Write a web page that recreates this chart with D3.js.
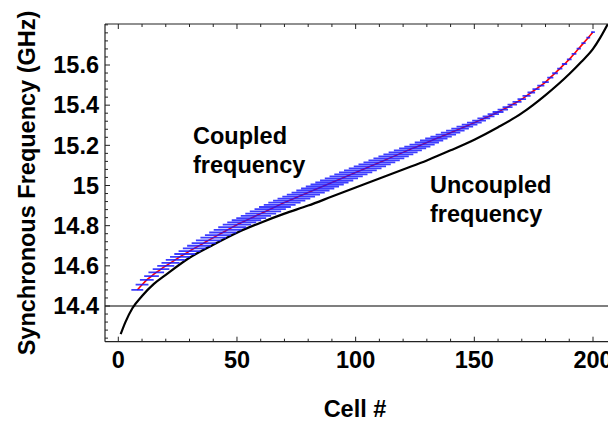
<!DOCTYPE html>
<html><head><meta charset="utf-8">
<script src="https://cdn.jsdelivr.net/npm/d3@7"></script>
<style>body{margin:0;background:#fff}svg{display:block}text{font-family:"Liberation Sans",Arial,sans-serif;font-weight:bold;fill:#000}</style>
</head><body><svg id="c" width="608" height="425"></svg>
<script>
// Coupled (measured) frequency, every 2 cells from 8 to 200
const coupledCells = d3.range(8, 201, 2);
const coupledFreq = [
14.480,14.506,14.530,14.549,14.567,14.584,14.600,14.615,14.630,14.645,
14.659,14.673,14.687,14.700,14.713,14.727,14.740,14.753,14.766,14.779,
14.792,14.805,14.816,14.827,14.838,14.849,14.860,14.871,14.882,14.893,
14.904,14.915,14.925,14.935,14.945,14.955,14.965,14.975,14.985,14.995,
15.005,15.015,15.025,15.035,15.045,15.055,15.065,15.075,15.085,15.095,
15.105,15.115,15.125,15.135,15.145,15.155,15.165,15.175,15.185,15.194,
15.204,15.214,15.224,15.234,15.243,15.253,15.263,15.273,15.283,15.293,
15.303,15.313,15.323,15.334,15.344,15.355,15.366,15.378,15.390,15.403,
15.416,15.430,15.446,15.463,15.480,15.497,15.515,15.537,15.559,15.582,
15.605,15.628,15.655,15.682,15.709,15.736,15.764];
// Horizontal error (half-width, in cells)
const coupledErr = [
2.5,2.7,2.9,3.1,3.3,3.5,3.6,3.8,4.0,4.2,
4.4,4.6,4.8,5.0,5.1,5.3,5.4,5.5,5.7,5.8,
5.9,6.0,6.1,6.2,6.3,6.4,6.5,6.6,6.6,6.7,
6.7,6.8,6.8,6.9,6.9,7.0,7.0,7.0,7.0,7.0,
7.0,7.0,7.0,7.0,7.0,7.0,7.0,6.9,6.9,6.8,
6.8,6.7,6.6,6.5,6.4,6.3,6.1,5.9,5.7,5.5,
5.3,5.1,4.9,4.7,4.5,4.3,4.1,3.9,3.7,3.5,
3.3,3.1,2.9,2.7,2.5,2.4,2.3,2.2,2.1,2.0,
1.9,1.8,1.7,1.6,1.5,1.5,1.4,1.3,1.2,1.1,
1.1,1.0,1.0,0.9,0.9,0.8,0.8];
// Uncoupled (design) frequency
const uncoupledCells = [1,3,6,10,15,20,30,40,50,60,70,80,90,100,110,120,130,140,150,160,170,180,190,195,200,203,206.5];
const uncoupledFreq  = [14.26,14.32,14.39,14.45,14.51,14.555,14.64,14.705,14.765,14.815,14.86,14.90,14.945,14.99,15.035,15.08,15.125,15.175,15.228,15.29,15.36,15.45,15.555,15.615,15.68,15.735,15.81];
const refFreq = 14.4;
const xTicks = [0,50,100,150,200];
const yTicks = [14.4,14.6,14.8,15,15.2,15.4,15.6];
const labels = {x:"Cell #", y:"Synchronous Frequency (GHz)", coupled:["Coupled","frequency"], uncoupled:["Uncoupled","frequency"]};

const svg = d3.select("#c");
const L=105, R=612, T=24, B=341.7;
const x = d3.scaleLinear().domain([0,200]).range([118.3,593]);
const y = d3.scaleLinear().domain([14.4,15.6]).range([306,65]);

svg.append("clipPath").attr("id","clp").append("rect").attr("x",L).attr("y",T).attr("width",R-L).attr("height",B-T);
const g = svg.append("g").attr("clip-path","url(#clp)");

// reference line
g.append("line").attr("x1",L).attr("x2",R).attr("y1",y(refFreq)).attr("y2",y(refFreq)).attr("stroke","#555").attr("stroke-width",1.3);

// uncoupled curve
g.append("path").datum(uncoupledCells.map((c,i)=>[c,uncoupledFreq[i]]))
 .attr("d",d3.line().x(d=>x(d[0])).y(d=>y(d[1])).curve(d3.curveMonotoneX))
 .attr("fill","none").attr("stroke","#000").attr("stroke-width",2.2);

// coupled red line
const cdata = coupledCells.map((c,i)=>({c, f:coupledFreq[i], e:coupledErr[i]}));
g.append("path").datum(cdata)
 .attr("d",d3.line().x(d=>x(d.c)).y(d=>y(d.f)).curve(d3.curveMonotoneX))
 .attr("fill","none").attr("stroke","#ff0000").attr("stroke-width",1.6);
// blue error bars
g.selectAll("line.eb").data(cdata).join("line").attr("class","eb")
 .attr("x1",d=>x(d.c-d.e)).attr("x2",d=>x(d.c+d.e))
 .attr("y1",d=>y(d.f)).attr("y2",d=>y(d.f))
 .attr("stroke","#1a1aff").attr("stroke-width",1.8).attr("stroke-opacity",0.85);

// frame
const ax = svg.append("g").attr("stroke","#222").attr("stroke-width",1.2);
ax.append("line").attr("x1",L).attr("x2",L).attr("y1",T).attr("y2",B);
ax.append("line").attr("x1",L).attr("x2",R).attr("y1",B).attr("y2",B);
ax.append("line").attr("x1",L).attr("x2",R).attr("y1",T).attr("y2",T);

// ticks
const xMinor = d3.range(0,211,10);
xMinor.forEach(v=>{
  const major = v%50===0, len = major?5:3;
  ax.append("line").attr("x1",x(v)).attr("x2",x(v)).attr("y1",B).attr("y2",B-len).attr("stroke-width",1);
  ax.append("line").attr("x1",x(v)).attr("x2",x(v)).attr("y1",T).attr("y2",T+len).attr("stroke-width",1);
});
const yMinor = d3.range(14.24,15.81,0.04);
yMinor.forEach(v=>{
  const major = yTicks.some(t=>Math.abs(t-v)<1e-6), len = major?5:3;
  ax.append("line").attr("x1",L).attr("x2",L+len).attr("y1",y(v)).attr("y2",y(v)).attr("stroke-width",1);
});

const fs = "23.5px";
svg.selectAll("text.xt").data(xTicks).join("text").attr("class","xt")
 .attr("x",d=>x(d)).attr("y",368).attr("text-anchor","middle").style("font-size",fs).text(d=>d3.format("d")(d));
svg.selectAll("text.yt").data(yTicks).join("text").attr("class","yt")
 .attr("x",99).attr("y",d=>y(d)+8.3).attr("text-anchor","end").style("font-size",fs).text(d=>String(d));

svg.append("text").attr("x",355).attr("y",417).attr("text-anchor","middle").style("font-size",fs).text(labels.x);
svg.append("text").attr("transform","translate(35,183) rotate(-90)").attr("text-anchor","middle").style("font-size",fs).text(labels.y);

const ann = (lines,x0,y0)=>lines.forEach((t,i)=>svg.append("text").attr("x",x0).attr("y",y0+i*29).style("font-size",fs).text(t));
ann(labels.coupled,193,144);
ann(labels.uncoupled,430,193);
</script></body></html>
